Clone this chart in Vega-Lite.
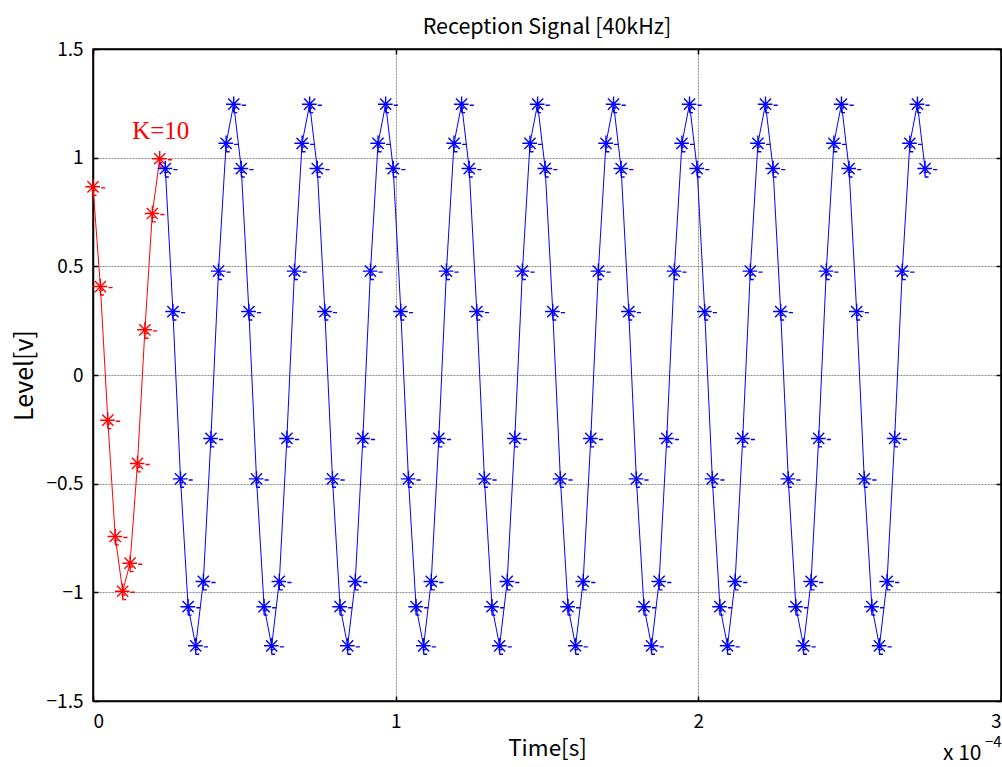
{
  "$schema": "https://vega.github.io/schema/vega-lite/v6.json",
  "width": 908,
  "height": 652,
  "autosize": {"type": "none"},
  "padding": {"left": 93, "top": 49, "right": 1, "bottom": 66},
  "background": "white",
  "title": {
    "text": "Reception Signal [40kHz]",
    "fontSize": 21.5,
    "fontWeight": "normal",
    "font": "Noto Sans CJK JP",
    "color": "black",
    "offset": 2
  },
  "config": {
    "view": {"stroke": "black", "strokeWidth": 1.5},
    "axis": {
      "labelFont": "Noto Sans CJK JP",
      "titleFont": "Noto Sans CJK JP",
      "labelFontSize": 19,
      "titleFontSize": 22.5,
      "titleFontWeight": "normal",
      "labelColor": "black",
      "titleColor": "black",
      "domainColor": "black",
      "domainWidth": 1.5,
      "tickColor": "black",
      "tickWidth": 1.5,
      "gridColor": "#8c8c8c",
      "gridWidth": 1,
      "gridDash": [2, 1]
    }
  },
  "datasets": {
    "signal": [
      {"s": "K", "t": 0, "v": 0.866},
      {"s": "K", "t": 2.45, "v": 0.407},
      {"s": "K", "t": 4.9, "v": -0.208},
      {"s": "K", "t": 7.35, "v": -0.743},
      {"s": "K", "t": 9.8, "v": -0.995},
      {"s": "K", "t": 12.25, "v": -0.866},
      {"s": "K", "t": 14.7, "v": -0.407},
      {"s": "K", "t": 17.15, "v": 0.208},
      {"s": "K", "t": 19.6, "v": 0.743},
      {"s": "K", "t": 22.05, "v": 0.995},

      {"s": "R", "t": 23.9, "v": 0.95},
      {"s": "R", "t": 26.41, "v": 0.292},
      {"s": "R", "t": 28.92, "v": -0.478},
      {"s": "R", "t": 31.43, "v": -1.066},
      {"s": "R", "t": 33.94, "v": -1.246},
      {"s": "R", "t": 36.45, "v": -0.95},
      {"s": "R", "t": 38.96, "v": -0.292},
      {"s": "R", "t": 41.47, "v": 0.478},
      {"s": "R", "t": 43.98, "v": 1.066},
      {"s": "R", "t": 46.49, "v": 1.246},

      {"s": "R", "t": 49.0, "v": 0.95},
      {"s": "R", "t": 51.51, "v": 0.292},
      {"s": "R", "t": 54.02, "v": -0.478},
      {"s": "R", "t": 56.53, "v": -1.066},
      {"s": "R", "t": 59.04, "v": -1.246},
      {"s": "R", "t": 61.55, "v": -0.95},
      {"s": "R", "t": 64.06, "v": -0.292},
      {"s": "R", "t": 66.57, "v": 0.478},
      {"s": "R", "t": 69.08, "v": 1.066},
      {"s": "R", "t": 71.59, "v": 1.246},

      {"s": "R", "t": 74.1, "v": 0.95},
      {"s": "R", "t": 76.61, "v": 0.292},
      {"s": "R", "t": 79.12, "v": -0.478},
      {"s": "R", "t": 81.63, "v": -1.066},
      {"s": "R", "t": 84.14, "v": -1.246},
      {"s": "R", "t": 86.65, "v": -0.95},
      {"s": "R", "t": 89.16, "v": -0.292},
      {"s": "R", "t": 91.67, "v": 0.478},
      {"s": "R", "t": 94.18, "v": 1.066},
      {"s": "R", "t": 96.69, "v": 1.246},

      {"s": "R", "t": 99.2, "v": 0.95},
      {"s": "R", "t": 101.71, "v": 0.292},
      {"s": "R", "t": 104.22, "v": -0.478},
      {"s": "R", "t": 106.73, "v": -1.066},
      {"s": "R", "t": 109.24, "v": -1.246},
      {"s": "R", "t": 111.75, "v": -0.95},
      {"s": "R", "t": 114.26, "v": -0.292},
      {"s": "R", "t": 116.77, "v": 0.478},
      {"s": "R", "t": 119.28, "v": 1.066},
      {"s": "R", "t": 121.79, "v": 1.246},

      {"s": "R", "t": 124.3, "v": 0.95},
      {"s": "R", "t": 126.81, "v": 0.292},
      {"s": "R", "t": 129.32, "v": -0.478},
      {"s": "R", "t": 131.83, "v": -1.066},
      {"s": "R", "t": 134.34, "v": -1.246},
      {"s": "R", "t": 136.85, "v": -0.95},
      {"s": "R", "t": 139.36, "v": -0.292},
      {"s": "R", "t": 141.87, "v": 0.478},
      {"s": "R", "t": 144.38, "v": 1.066},
      {"s": "R", "t": 146.89, "v": 1.246},

      {"s": "R", "t": 149.4, "v": 0.95},
      {"s": "R", "t": 151.91, "v": 0.292},
      {"s": "R", "t": 154.42, "v": -0.478},
      {"s": "R", "t": 156.93, "v": -1.066},
      {"s": "R", "t": 159.44, "v": -1.246},
      {"s": "R", "t": 161.95, "v": -0.95},
      {"s": "R", "t": 164.46, "v": -0.292},
      {"s": "R", "t": 166.97, "v": 0.478},
      {"s": "R", "t": 169.48, "v": 1.066},
      {"s": "R", "t": 171.99, "v": 1.246},

      {"s": "R", "t": 174.5, "v": 0.95},
      {"s": "R", "t": 177.01, "v": 0.292},
      {"s": "R", "t": 179.52, "v": -0.478},
      {"s": "R", "t": 182.03, "v": -1.066},
      {"s": "R", "t": 184.54, "v": -1.246},
      {"s": "R", "t": 187.05, "v": -0.95},
      {"s": "R", "t": 189.56, "v": -0.292},
      {"s": "R", "t": 192.07, "v": 0.478},
      {"s": "R", "t": 194.58, "v": 1.066},
      {"s": "R", "t": 197.09, "v": 1.246},

      {"s": "R", "t": 199.6, "v": 0.95},
      {"s": "R", "t": 202.11, "v": 0.292},
      {"s": "R", "t": 204.62, "v": -0.478},
      {"s": "R", "t": 207.13, "v": -1.066},
      {"s": "R", "t": 209.64, "v": -1.246},
      {"s": "R", "t": 212.15, "v": -0.95},
      {"s": "R", "t": 214.66, "v": -0.292},
      {"s": "R", "t": 217.17, "v": 0.478},
      {"s": "R", "t": 219.68, "v": 1.066},
      {"s": "R", "t": 222.19, "v": 1.246},

      {"s": "R", "t": 224.7, "v": 0.95},
      {"s": "R", "t": 227.21, "v": 0.292},
      {"s": "R", "t": 229.72, "v": -0.478},
      {"s": "R", "t": 232.23, "v": -1.066},
      {"s": "R", "t": 234.74, "v": -1.246},
      {"s": "R", "t": 237.25, "v": -0.95},
      {"s": "R", "t": 239.76, "v": -0.292},
      {"s": "R", "t": 242.27, "v": 0.478},
      {"s": "R", "t": 244.78, "v": 1.066},
      {"s": "R", "t": 247.29, "v": 1.246},

      {"s": "R", "t": 249.8, "v": 0.95},
      {"s": "R", "t": 252.31, "v": 0.292},
      {"s": "R", "t": 254.82, "v": -0.478},
      {"s": "R", "t": 257.33, "v": -1.066},
      {"s": "R", "t": 259.84, "v": -1.246},
      {"s": "R", "t": 262.35, "v": -0.95},
      {"s": "R", "t": 264.86, "v": -0.292},
      {"s": "R", "t": 267.37, "v": 0.478},
      {"s": "R", "t": 269.88, "v": 1.066},
      {"s": "R", "t": 272.39, "v": 1.246},

      {"s": "R", "t": 274.9, "v": 0.95}
    ],
    "notes": [{"label": "K=10", "t": 22.4, "v": 1.123}]
  },
  "resolve": {"axis": {"x": "independent", "y": "independent"}},
  "layer": [
    {
      "data": {"name": "signal"},
      "mark": {"type": "line", "strokeWidth": 1, "clip": true},
      "encoding": {
        "x": {
          "field": "t", "type": "quantitative",
          "scale": {"domain": [0, 300], "nice": false, "zero": false},
          "axis": {
            "orient": "bottom",
            "values": [0, 100, 200, 300],
            "labelExpr": "format(datum.value / 100, 'd')",
            "grid": true,
            "tickSize": -5,
            "labelPadding": 16,
            "title": "Time[s]",
            "titlePadding": 6
          }
        },
        "y": {
          "field": "v", "type": "quantitative",
          "scale": {"domain": [-1.5, 1.5], "nice": false, "zero": false},
          "axis": {
            "orient": "left",
            "values": [-1.5, -1, -0.5, 0, 0.5, 1, 1.5],
            "format": "~g",
            "grid": true,
            "tickSize": -5,
            "labelPadding": 15,
            "title": "Level[v]",
            "titleFontSize": 25,
            "titlePadding": 9
          }
        },
        "color": {
          "field": "s", "type": "nominal",
          "scale": {"domain": ["K", "R"], "range": ["#ff0000", "#0000ff"]},
          "legend": null
        }
      }
    },
    {
      "data": {"name": "signal"},
      "mark": {
        "type": "point",
        "shape": "M-1.1,0L1,0M0,-1.1L0,1.1M-0.8,-0.8L0.8,0.8M-0.8,0.8L0.8,-0.8M1.15,0.15L1.75,0.15M-0.2,0.55L0.35,0.55M-0.05,1.2L0.5,1.2",
        "size": 196,
        "filled": false,
        "strokeWidth": 1.4,
        "opacity": 1
      },
      "encoding": {
        "x": {
          "field": "t", "type": "quantitative",
          "axis": {
            "orient": "top", "values": [0, 100, 200, 300],
            "labels": false, "grid": false, "tickSize": -5, "title": null
          }
        },
        "y": {
          "field": "v", "type": "quantitative",
          "axis": {
            "orient": "right", "values": [-1.5, -1, -0.5, 0, 0.5, 1, 1.5],
            "labels": false, "grid": false, "tickSize": -5, "title": null
          }
        },
        "color": {"field": "s", "type": "nominal", "legend": null}
      }
    },
    {
      "data": {"name": "notes"},
      "mark": {
        "type": "text",
        "font": "Liberation Serif",
        "fontSize": 25,
        "color": "#ff0000",
        "align": "center",
        "baseline": "middle"
      },
      "encoding": {
        "text": {"field": "label"},
        "x": {"field": "t", "type": "quantitative", "axis": null},
        "y": {"field": "v", "type": "quantitative", "axis": null}
      }
    },
    {
      "data": {"values": [{"label": "x 10", "t": 300, "v": -1.5}]},
      "mark": {
        "type": "text",
        "font": "Noto Sans CJK JP",
        "fontSize": 21,
        "color": "black",
        "align": "left",
        "baseline": "middle",
        "dx": -58,
        "dy": 53
      },
      "encoding": {
        "text": {"field": "label"},
        "x": {"field": "t", "type": "quantitative", "axis": null},
        "y": {"field": "v", "type": "quantitative", "axis": null}
      }
    },
    {
      "data": {"values": [{"label": "−4", "t": 300, "v": -1.5}]},
      "mark": {
        "type": "text",
        "font": "Noto Sans CJK JP",
        "fontSize": 15,
        "color": "black",
        "align": "left",
        "baseline": "middle",
        "dx": -16,
        "dy": 41
      },
      "encoding": {
        "text": {"field": "label"},
        "x": {"field": "t", "type": "quantitative", "axis": null},
        "y": {"field": "v", "type": "quantitative", "axis": null}
      }
    }
  ]
}
